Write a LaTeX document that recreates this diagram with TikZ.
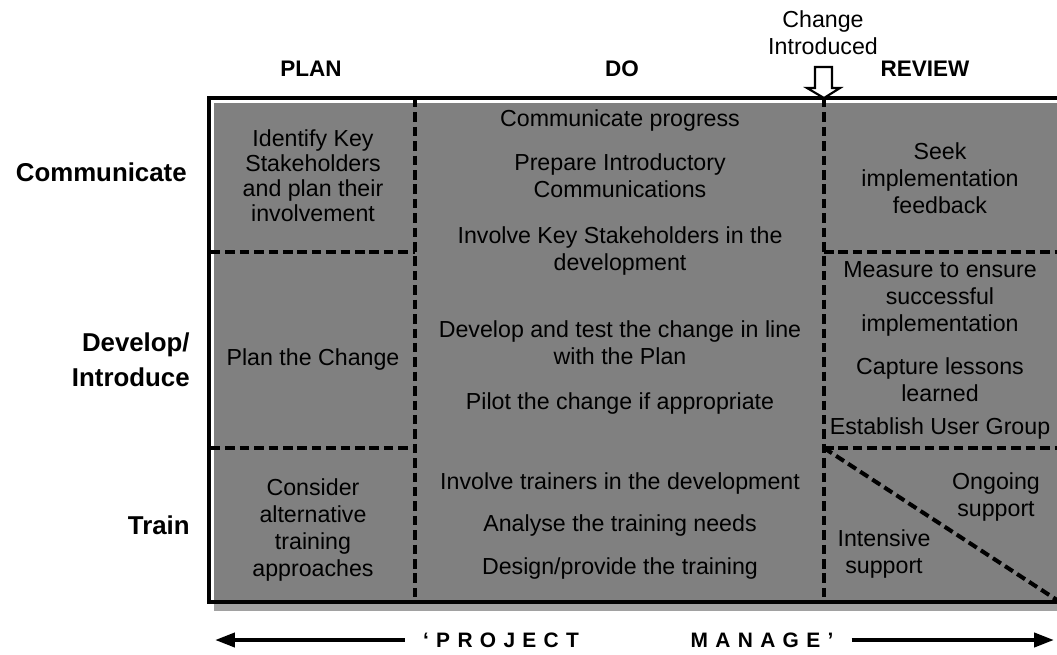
\documentclass[tikz,border=0pt]{standalone}
\usepackage{fontspec}
\setmainfont{Liberation Sans}
\usetikzlibrary{arrows.meta}
\definecolor{cellgray}{gray}{0.5}
\definecolor{shadowgray}{gray}{0.63}
\tikzstyle{cell}=[font=\fontsize{13.2}{15.5}\selectfont, align=center, inner sep=0pt]
\tikzstyle{rowlabel}=[font=\fontsize{14.7}{19.8}\selectfont\bfseries, align=right, inner sep=0pt, anchor=east]
\tikzstyle{phase}=[font=\fontsize{12.8}{15}\selectfont\bfseries, inner sep=0pt]
\tikzstyle{split}=[line width=2.3pt, dash pattern=on 5.4pt off 2.8pt]
\tikzstyle{pmtext}=[font=\fontsize{11.9}{14}\selectfont\bfseries\addfontfeature{LetterSpace=35}, inner sep=0pt]
\tikzstyle{pmarrow}=[line width=2.3pt, -{Triangle[length=0.4cm, width=0.28cm]}, shorten <=0.36cm]

\begin{document}
\begin{tikzpicture}[x=0.02cm, y=-0.02cm]
	\useasboundingbox (0,0) rectangle (1057,655);
	\begin{scope}
		\clip (0,0) rectangle (1057,655);
		\fill[shadowgray] (214,103) rectangle (1080,611);
		\fill[cellgray] (214,103) rectangle (1080,601);
		\draw[line width=2pt] (209,98) rectangle (1080,602);
		\draw[split] (415,98) -- (415,602);
		\draw[split] (824,98) -- (824,602);
		\draw[split] (211,252) -- (415,252);
		\draw[split] (211,448) -- (415,448);
		\draw[split] (824,252) -- (1062,252);
		\draw[split] (824,448) -- (1062,448);
		\draw[split] (824,448) -- (1060,602);
	\end{scope}
	\draw[line width=1.2pt, fill=white] (815,67) -- (832,67) -- (832,88) -- (840,88) -- (824,98) -- (807,88) -- (815,88) -- cycle;
	\node[cell] (chg) at (823,33) {Change\\Introduced};
	\node[phase] (plan) at (311,69) {PLAN};
	\node[phase] (do) at (622,69) {DO};
	\node[phase] (review) at (925,69) {REVIEW};
	\node[rowlabel] (comm) at (187,172) {Communicate};
	\node[rowlabel] (devel) at (190,360) {Develop/\\Introduce};
	\node[rowlabel] (train) at (190,525) {Train};
	\node[cell, font=\fontsize{13.2}{14.2}\selectfont] (plancomm) at (313,176) {Identify Key\\Stakeholders\\and plan their\\involvement};
	\node[cell] (plandev) at (313,360) {Plan the Change};
	\node[cell] (plantrain) at (313,530) {Consider\\alternative\\training\\approaches};
	\node[cell] (do1) at (620,121) {Communicate progress};
	\node[cell] (do2) at (620,176) {Prepare Introductory\\Communications};
	\node[cell] (do3) at (620,251) {Involve Key Stakeholders in the\\development};
	\node[cell] (do4) at (620,343) {Develop and test the change in line\\with the Plan};
	\node[cell] (do5) at (620,403) {Pilot the change if appropriate};
	\node[cell] (do6) at (620,483) {Involve trainers in the development};
	\node[cell] (do7) at (620,525) {Analyse the training needs};
	\node[cell] (do8) at (620,568) {Design/provide the training};
	\node[cell] (rev1) at (940,178) {Seek\\implementation\\feedback};
	\node[cell] (rev2) at (940,299) {Measure to ensure\\successful\\implementation};
	\node[cell] (rev3) at (940,380) {Capture lessons\\learned};
	\node[cell] (rev4) at (940,428) {Establish User Group};
	\node[cell] (ongoing) at (996,497) {Ongoing\\support};
	\node[cell] (intensive) at (884,554) {Intensive\\support};
	\node[pmtext] (proj) at (501,640) {‘PROJECT};
	\node[pmtext] (manage) at (762,640) {MANAGE’};
	\coordinate (pmleft) at (215,640);
	\coordinate (pmright) at (1054,640);
	\draw[pmarrow] (proj) -- (pmleft);
	\draw[pmarrow] (manage) -- (pmright);
\end{tikzpicture}
\end{document}
